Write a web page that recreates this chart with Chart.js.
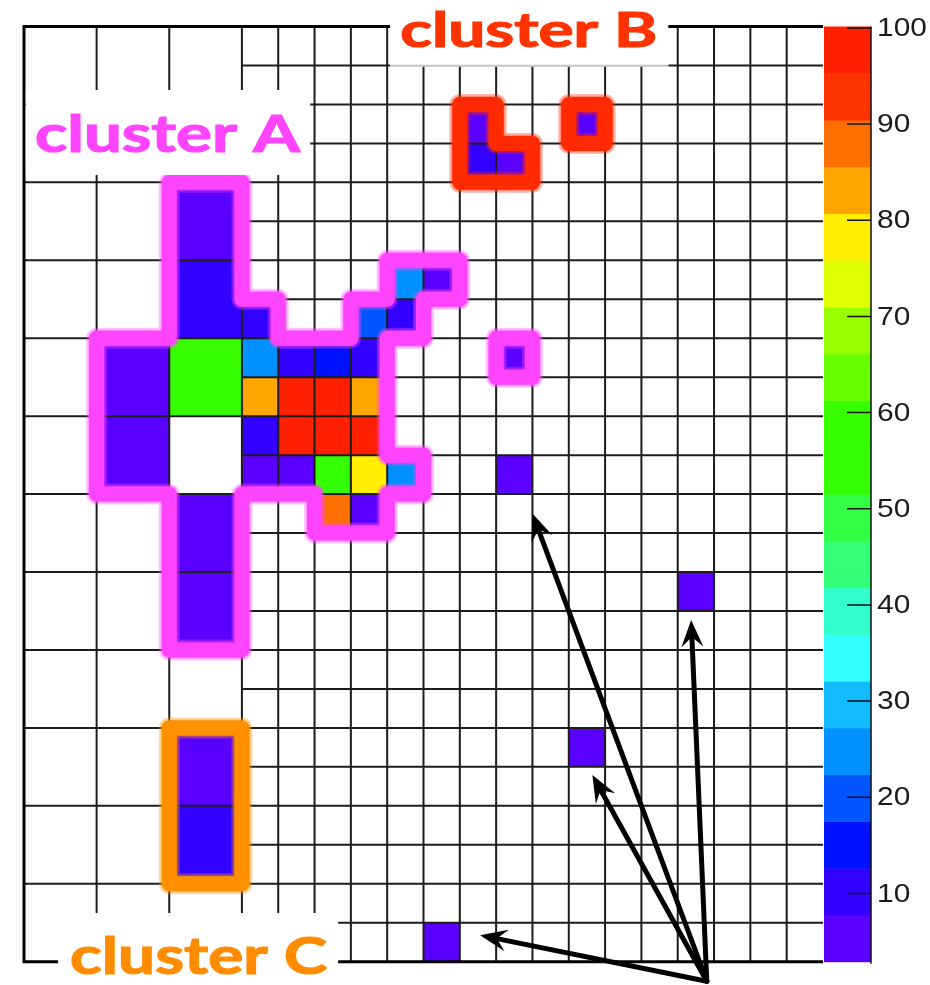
<!DOCTYPE html>
<html>
<head>
<meta charset="utf-8">
<script src="https://cdn.jsdelivr.net/npm/chart.js@4.4.1/dist/chart.umd.min.js"></script>
<style>
  html, body { margin: 0; padding: 0; background: #ffffff; }
  canvas { display: block; }
</style>
</head>
<body>
<canvas id="pads" width="930" height="985"></canvas>
<script>
// Pad plane: 22 x 24 fine cells; the first 6 fine columns are read out as 2x2 coarse pads.
const FINE_COLS = 22;
const FINE_ROWS = 24;
const COARSE_SPAN = 6;           // fine columns covered by coarse pads

// Coarse pads (indices in coarse units) and their signal
const coarseCol = [2, 2, 1, 2, 1, 2, 2, 2, 2];
const coarseRow = [2, 3, 4, 4, 5, 6, 7, 9, 10];
const coarseVal = [5, 10, 6, 57, 5, 6, 5, 6, 10];

// Fine pads (indices in fine units) and their signal
const fineCol = [12, 15, 12, 13, 10, 11, 6, 9, 10, 6, 7, 8, 9, 13, 6, 7, 8, 9, 6, 7, 8, 9, 6, 7, 8, 9, 10, 13, 8, 9, 18, 15, 11];
const fineRow = [2, 2, 3, 3, 6, 6, 7, 7, 7, 8, 8, 8, 8, 8, 9, 9, 9, 9, 10, 10, 10, 10, 11, 11, 11, 11, 11, 11, 12, 12, 14, 18, 23];
const fineVal = [5, 5, 10, 6, 25, 5, 10, 20, 10, 25, 10, 15, 11, 5, 83, 97, 99, 82, 10, 98, 100, 96, 6, 5, 55, 78, 25, 5, 88, 6, 5, 5, 5];

// Colour scale
const Z_MIN = 2.9;
const Z_MAX = 100.15;
const zTicks = [10, 20, 30, 40, 50, 60, 70, 80, 90, 100];
const palette = ['#5a00ff', '#3300ff', '#0011ff', '#0055ff', '#0090ff', '#11bbff', '#33ffff', '#33ffcc', '#33ff77', '#33ff44',
                 '#33ff00', '#38ff00', '#66ff00', '#99ff00', '#e0ff00', '#ffee00', '#ffa500', '#ff7000', '#ff3300', '#ff2000'];

// Cluster outlines (vertices in fine-cell units)
const clusterA = [[4,4],[6,4],[6,7],[7,7],[7,8],[9,8],[9,7],[10,7],[10,6],[12,6],[12,7],[11,7],[11,8],[10,8],[10,11],[11,11],[11,12],[10,12],[10,13],[8,13],[8,12],[6,12],[6,16],[4,16],[4,12],[2,12],[2,8],[4,8]];
const clusterA2 = [[13,8],[14,8],[14,9],[13,9]];
const clusterB = [[12,2],[13,2],[13,3],[14,3],[14,4],[12,4]];
const clusterB2 = [[15,2],[16,2],[16,3],[15,3]];
const clusterC = [[4,18],[6,18],[6,22],[4,22]];

// Cluster names
const labelText = ['cluster A', 'cluster B', 'cluster C'];
const labelColor = ['#ff44ff', '#ff3300', '#ff8c00'];

// Isolated hits pointed at by arrows (from a common origin under the plane)
const arrowFrom = [18.8, 24.5];
const arrowTo = [[14.0, 12.5], [18.37, 15.23], [15.65, 19.21], [12.56, 23.32]];

function levelColor(v) {
  const bw = (Z_MAX - Z_MIN) / palette.length;
  let k = Math.floor((v - Z_MIN) / bw);
  k = Math.max(0, Math.min(palette.length - 1, k));
  return palette[k];
}

const padsPlugin = {
  id: 'pads',
  beforeDatasetsDraw(chart) {
    const ctx = chart.ctx;
    const sx = chart.scales.x, sy = chart.scales.y, sz = chart.scales.z;
    const X = v => sx.getPixelForValue(v);
    const Y = v => sy.getPixelForValue(v);

    ctx.save();
    // pads
    chart.data.datasets.forEach(ds => {
      ds.data.forEach(d => {
        const x0 = X(d.x - d.w / 2), x1 = X(d.x + d.w / 2);
        const y0 = Y(d.y - d.h / 2), y1 = Y(d.y + d.h / 2);
        ctx.fillStyle = levelColor(d.v);
        ctx.fillRect(x0, y0, x1 - x0, y1 - y0);
      });
    });

    // pad boundaries
    ctx.strokeStyle = '#1c1c1c';
    ctx.lineWidth = 2;
    ctx.beginPath();
    for (let c = 2; c < FINE_COLS; c++) {
      if (c < COARSE_SPAN && c % 2) continue;
      ctx.moveTo(X(c), Y(0)); ctx.lineTo(X(c), Y(FINE_ROWS));
    }
    for (let r = 1; r < FINE_ROWS; r++) {
      const start = r % 2 === 0 ? 0 : COARSE_SPAN;
      ctx.moveTo(X(start), Y(r)); ctx.lineTo(X(FINE_COLS), Y(r));
    }
    ctx.stroke();

    // frame (open on the right)
    ctx.strokeStyle = '#000';
    ctx.lineWidth = 3;
    ctx.beginPath();
    ctx.moveTo(X(FINE_COLS), Y(0)); ctx.lineTo(X(0), Y(0));
    ctx.lineTo(X(0), Y(FINE_ROWS)); ctx.lineTo(X(FINE_COLS), Y(FINE_ROWS));
    ctx.stroke();

    // cluster outlines
    const outline = (pts, color) => {
      ctx.save();
      ctx.lineJoin = 'round';
      ctx.lineCap = 'round';
      ctx.strokeStyle = color;
      ctx.beginPath();
      pts.forEach((p, i) => i ? ctx.lineTo(X(p[0]), Y(p[1])) : ctx.moveTo(X(p[0]), Y(p[1])));
      ctx.closePath();
      ctx.globalAlpha = 0.3; ctx.lineWidth = 21; ctx.stroke();
      ctx.globalAlpha = 1; ctx.lineWidth = 15;
      ctx.shadowColor = color; ctx.shadowBlur = 3;
      ctx.stroke();
      ctx.restore();
    };
    outline(clusterA, labelColor[0]);
    outline(clusterA2, labelColor[0]);
    outline(clusterB, '#ff2a00');
    outline(clusterB2, '#ff2a00');
    outline(clusterC, '#ff9000');

    // colour bar
    const cbL = chart.chartArea.right + 1, cbR = chart.chartArea.right + 48;
    const bw = (Z_MAX - Z_MIN) / palette.length;
    palette.forEach((col, k) => {
      const yb = sz.getPixelForValue(Z_MIN + k * bw);
      const yt = sz.getPixelForValue(Z_MIN + (k + 1) * bw);
      ctx.fillStyle = col;
      ctx.fillRect(cbL, yt, cbR - cbL, yb - yt + 0.5);
    });
    ctx.strokeStyle = '#111';
    ctx.lineWidth = 1.5;
    ctx.beginPath();
    ctx.moveTo(cbR, sz.getPixelForValue(Z_MAX)); ctx.lineTo(cbR, sz.getPixelForValue(Z_MIN) + 2);
    zTicks.forEach(t => {
      const y = sz.getPixelForValue(t);
      ctx.moveTo(cbR - 24, y); ctx.lineTo(cbR, y);
    });
    ctx.stroke();

    // colour bar labels (wide digits)
    ctx.fillStyle = '#1a1a1a';
    ctx.font = '26px "Liberation Sans", Arial, sans-serif';
    ctx.textAlign = 'left';
    ctx.textBaseline = 'middle';
    zTicks.forEach(t => {
      ctx.save();
      ctx.translate(cbR + 6, sz.getPixelForValue(t) + 1);
      ctx.scale(1.15, 1);
      ctx.fillText(String(t), 0, 0);
      ctx.restore();
    });
    ctx.restore();
  },
  afterDatasetsDraw(chart) {
    const ctx = chart.ctx;
    const sx = chart.scales.x, sy = chart.scales.y;
    const X = v => sx.getPixelForValue(v);
    const Y = v => sy.getPixelForValue(v);
    ctx.save();

    // name tags on white boxes
    const tag = (box, text, color, tx, base, width, cap) => {
      ctx.fillStyle = '#fff';
      ctx.fillRect(X(box[0]), Y(box[1]), X(box[2]) - X(box[0]), Y(box[3]) - Y(box[1]));
      const size = cap / 0.72;
      ctx.font = `bold ${size}px Lato, "Open Sans", sans-serif`;
      const w = ctx.measureText(text).width;
      ctx.save();
      ctx.translate(X(tx), Y(base));
      ctx.scale(width / w, 1);
      ctx.fillStyle = color;
      ctx.strokeStyle = color;
      ctx.lineWidth = 1.2;
      ctx.textAlign = 'left';
      ctx.textBaseline = 'alphabetic';
      ctx.fillText(text, 0, 0);
      ctx.strokeText(text, 0, 0);
      ctx.restore();
    };
    tag([0.05, 1.63, 7.88, 3.81], labelText[0], labelColor[0], 0.30, 3.22, 265, 37);
    tag([10.08, -0.7, 17.74, 1.03], labelText[1], labelColor[1], 10.36, 0.53, 257, 34);
    ctx.strokeStyle = '#c4c4c4';
    ctx.lineWidth = 1.5;
    ctx.beginPath(); ctx.moveTo(X(10.08), Y(1)); ctx.lineTo(X(17.74), Y(1)); ctx.stroke();
    tag([0.94, 22.75, 8.65, 24.8], labelText[2], labelColor[2], 1.27, 24.32, 257, 37);

    // arrows
    ctx.fillStyle = '#000';
    ctx.strokeStyle = '#000';
    ctx.lineCap = 'round';
    const ox = X(arrowFrom[0]), oy = Y(arrowFrom[1]);
    arrowTo.forEach(t => {
      const tx = X(t[0]), ty = Y(t[1]);
      const dx = tx - ox, dy = ty - oy, len = Math.hypot(dx, dy);
      const ux = dx / len, uy = dy / len, nx = -uy, ny = ux;
      const L = 27, W = 11, notch = 17;
      ctx.lineWidth = 5;
      ctx.beginPath();
      ctx.moveTo(ox, oy);
      ctx.lineTo(tx - ux * notch, ty - uy * notch);
      ctx.stroke();
      ctx.beginPath();
      ctx.moveTo(tx, ty);
      ctx.lineTo(tx - ux * L + nx * W, ty - uy * L + ny * W);
      ctx.lineTo(tx - ux * notch, ty - uy * notch);
      ctx.lineTo(tx - ux * L - nx * W, ty - uy * L - ny * W);
      ctx.closePath();
      ctx.fill();
    });
    ctx.restore();
  }
};

const coarseData = coarseCol.map((c, k) => ({ x: 2 * c + 1, y: 2 * coarseRow[k] + 1, w: 2, h: 2, v: coarseVal[k] }));
const fineData = fineCol.map((c, k) => ({ x: c + 0.5, y: fineRow[k] + 0.5, w: 1, h: 1, v: fineVal[k] }));

new Chart(document.getElementById('pads'), {
  type: 'scatter',
  data: {
    datasets: [
      { label: 'coarse pads', data: coarseData, pointRadius: 0 },
      { label: 'fine pads', data: fineData, pointRadius: 0 }
    ]
  },
  options: {
    responsive: false,
    animation: false,
    events: [],
    layout: { padding: { left: 24, top: 26.5, right: 107, bottom: 23.3 } },
    plugins: { legend: { display: false }, tooltip: { enabled: false } },
    scales: {
      x: { type: 'linear', min: 0, max: FINE_COLS, display: false },
      y: { type: 'linear', min: 0, max: FINE_ROWS, reverse: true, display: false },
      z: { type: 'linear', axis: 'y', position: 'right', min: Z_MIN, max: Z_MAX, display: false }
    }
  },
  plugins: [padsPlugin]
});
</script>
</body>
</html>
